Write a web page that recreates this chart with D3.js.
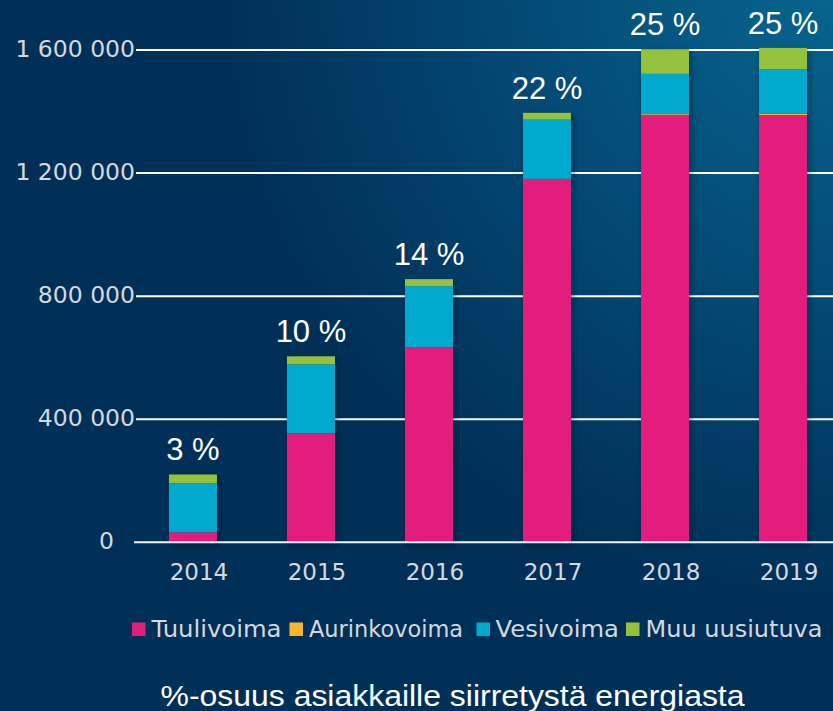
<!DOCTYPE html>
<html>
<head>
<meta charset="utf-8">
<script src="https://cdn.jsdelivr.net/npm/d3@7"></script>
<style>
  html, body { margin: 0; padding: 0; overflow: hidden; }
  svg { display: block; }
</style>
</head>
<body>
<div id="chart"></div>
<script>
// data
const years = ["2014", "2015", "2016", "2017", "2018", "2019"];
const tuulivoima = [32500, 354500, 634000, 1180500, 1388500, 1388500];
const aurinkovoima = [0, 0, 0, 1000, 3000, 5000];
const vesivoima = [159000, 224000, 198500, 192000, 131000, 143500];
const muuUusiutuva = [29000, 26000, 23000, 22500, 80000, 70000];
const osuus = ["3 %", "10 %", "14 %", "22 %", "25 %", "25 %"];
const yTicks = [0, 400000, 800000, 1200000, 1600000];
const seriesNames = ["Tuulivoima", "Aurinkovoima", "Vesivoima", "Muu uusiutuva"];
const seriesColors = ["#e31d7b", "#fbb62f", "#00a9cd", "#95c13d"];
const title = "%-osuus asiakkaille siirretystä energiasta";

const canvWidth = 833, canvHeight = 711;
const svg = d3.select("#chart").append("svg")
    .attr("width", canvWidth)
    .attr("height", canvHeight);

// background gradient, lighter in the top right corner
const defs = svg.append("defs");
const bg = defs.append("radialGradient")
    .attr("id", "bg")
    .attr("gradientUnits", "userSpaceOnUse")
    .attr("cx", 840).attr("cy", -20).attr("r", 620);
bg.append("stop").attr("offset", "0%").attr("stop-color", "#06668f");
bg.append("stop").attr("offset", "55%").attr("stop-color", "#034873");
bg.append("stop").attr("offset", "100%").attr("stop-color", "#003058");

const shadow = defs.append("filter").attr("id", "shadow")
    .attr("x", "-30%").attr("y", "-30%").attr("width", "160%").attr("height", "160%");
shadow.append("feDropShadow")
    .attr("dx", 2).attr("dy", 3).attr("stdDeviation", 3)
    .attr("flood-color", "#001326").attr("flood-opacity", 0.45);

svg.append("rect")
    .attr("width", canvWidth).attr("height", canvHeight)
    .attr("fill", "url(#bg)");

// scales
const x = d3.scaleBand()
    .domain(years)
    .range([134, 842])
    .paddingInner(0.593)
    .paddingOuter(0.296);

const y = d3.scaleLinear()
    .domain([0, 1600000])
    .range([542.3, 50]);

const fmt = v => d3.format(",")(v).replace(/,/g, " ");

// gridlines + y labels
const grid = svg.append("g");
grid.selectAll("line")
    .data(yTicks.filter(d => d > 0))
    .join("line")
      .attr("x1", 136).attr("x2", canvWidth)
      .attr("y1", d => y(d)).attr("y2", d => y(d))
      .attr("stroke", "#ffffff")
      .attr("stroke-width", 2);

grid.selectAll("text")
    .data(yTicks)
    .join("text")
      .attr("x", d => d === 0 ? 114 : 135)
      .attr("y", d => y(d))
      .attr("dy", "0.28em")
      .attr("text-anchor", "end")
      .attr("font-family", "DejaVu Sans")
      .attr("font-size", 23.5)
      .attr("fill", "#d3d9df")
      .text(fmt);

// stacked bars
const rows = years.map((yr, i) => ({
    year: yr,
    Tuulivoima: tuulivoima[i],
    Aurinkovoima: aurinkovoima[i],
    Vesivoima: vesivoima[i],
    "Muu uusiutuva": muuUusiutuva[i]
}));
const stack = d3.stack().keys(seriesNames)(rows);
const color = d3.scaleOrdinal().domain(seriesNames).range(seriesColors);

const bars = svg.append("g");
// shadow layer under each full bar
bars.selectAll("rect.sh")
    .data(rows)
    .join("rect")
      .attr("class", "sh")
      .attr("x", d => x(d.year))
      .attr("width", x.bandwidth())
      .attr("y", (d, i) => y(stack[3][i][1]))
      .attr("height", (d, i) => y(0) - y(stack[3][i][1]))
      .attr("fill", "#002a50")
      .attr("filter", "url(#shadow)");

bars.selectAll("g.series")
    .data(stack)
    .join("g")
      .attr("class", "series")
      .attr("fill", d => color(d.key))
    .selectAll("rect")
    .data(d => d)
    .join("rect")
      .attr("x", d => x(d.data.year))
      .attr("width", x.bandwidth())
      .attr("y", d => y(d[1]))
      .attr("height", d => y(d[0]) - y(d[1]));

// zero line
svg.append("line")
    .attr("x1", 134).attr("x2", canvWidth)
    .attr("y1", y(0)).attr("y2", y(0))
    .attr("stroke", "#eef2f5")
    .attr("stroke-width", 2);

// percentage labels
svg.append("g").selectAll("text")
    .data(rows)
    .join("text")
      .attr("x", d => x(d.year) + x.bandwidth() / 2)
      .attr("y", (d, i) => y(stack[3][i][1]) - 14)
      .attr("text-anchor", "middle")
      .attr("font-family", "Liberation Sans")
      .attr("font-size", 31)
      .attr("fill", "#ffffff")
      .text((d, i) => osuus[i]);

// x axis labels
svg.append("g").selectAll("text")
    .data(years)
    .join("text")
      .attr("x", d => x(d) + x.bandwidth() / 2 + 6)
      .attr("y", 580)
      .attr("text-anchor", "middle")
      .attr("font-family", "DejaVu Sans")
      .attr("font-size", 23)
      .attr("fill", "#d3d9df")
      .text(d => d);

// legend
const legendPos = [
    {sx: 132, tx: 151.5, w: 130},
    {sx: 289.5, tx: 309, w: 154},
    {sx: 476.5, tx: 495.5, w: 123.5},
    {sx: 626, tx: 645.5, w: 177}
];
const legend = svg.append("g");
const item = legend.selectAll("g")
    .data(seriesNames)
    .join("g");
item.append("rect")
    .attr("x", (d, i) => legendPos[i].sx)
    .attr("y", 622.5)
    .attr("width", 13.5).attr("height", 13.5)
    .attr("fill", d => color(d));
item.append("text")
    .attr("x", (d, i) => legendPos[i].tx)
    .attr("y", 636.5)
    .attr("font-family", "DejaVu Sans")
    .attr("font-size", 23.5)
    .attr("fill", "#d3d9df")
    .attr("textLength", (d, i) => legendPos[i].w)
    .attr("lengthAdjust", "spacingAndGlyphs")
    .text(d => d);

// bottom title
svg.append("text")
    .attr("x", 160.5)
    .attr("y", 706)
    .attr("font-family", "Liberation Sans")
    .attr("font-size", 30)
    .attr("fill", "#ffffff")
    .attr("textLength", 584)
    .attr("lengthAdjust", "spacingAndGlyphs")
    .text(title);
</script>
</body>
</html>
